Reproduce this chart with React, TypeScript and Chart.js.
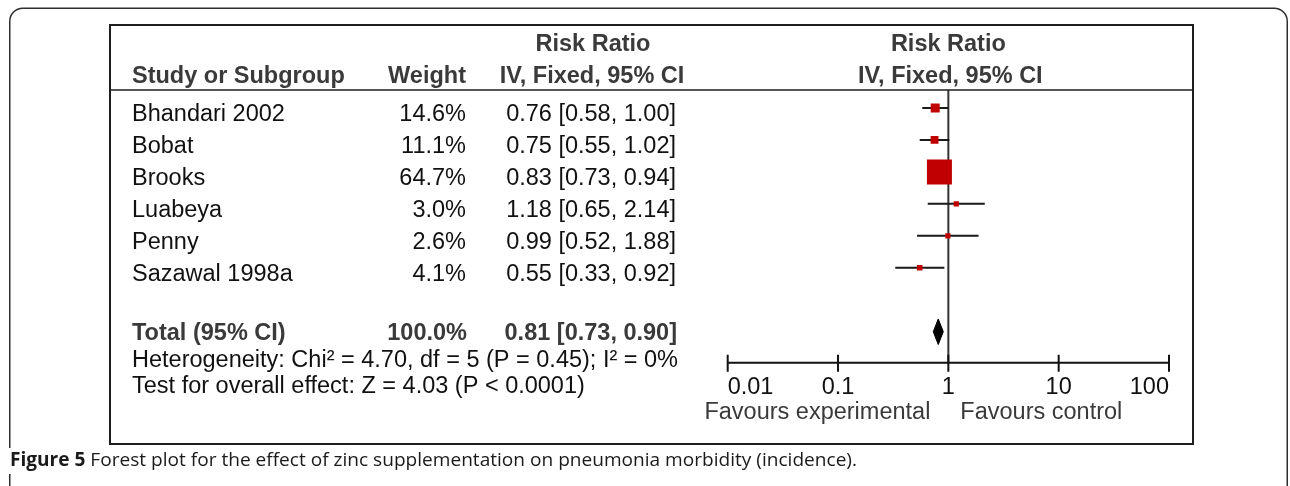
import React, { useEffect, useRef } from 'react';
import { Chart, registerables } from 'chart.js';

Chart.register(...registerables);

// ---------- data ----------
const studies = ['Bhandari 2002', 'Bobat', 'Brooks', 'Luabeya', 'Penny', 'Sazawal 1998a'];
const weights = [14.6, 11.1, 64.7, 3.0, 2.6, 4.1];
const riskRatios = [0.76, 0.75, 0.83, 1.18, 0.99, 0.55];
const ciLower = [0.58, 0.55, 0.73, 0.65, 0.52, 0.33];
const ciUpper = [1.0, 1.02, 0.94, 2.14, 1.88, 0.92];

const totalLabel = 'Total (95% CI)';
const totalWeight = 100.0;
const totalRR = 0.81;
const totalLower = 0.73;
const totalUpper = 0.9;

const xTicks = [0.01, 0.1, 1, 10, 100];
const xTickLabels = ['0.01', '0.1', '1', '10', '100'];

const headerTop = 'Risk Ratio';
const headerStudy = 'Study or Subgroup';
const headerWeight = 'Weight';
const headerMethod = 'IV, Fixed, 95% CI';
const heterogeneityText = 'Heterogeneity: Chi² = 4.70, df = 5 (P = 0.45); I² = 0%';
const overallText = 'Test for overall effect: Z = 4.03 (P < 0.0001)';
const favoursLeft = 'Favours experimental';
const favoursRight = 'Favours control';
const captionBold = 'Figure 5';
const captionText = ' Forest plot for the effect of zinc supplementation on pneumonia morbidity (incidence).';

// ---------- layout constants ----------
const W = 1290;
const H = 486;
const FONT = '"Liberation Sans", Arial, Helvetica, sans-serif';
const FS = 23.5;
const CAP_FONT = '"Open Sans", "Noto Sans", sans-serif';
const CAP_FS = 19;
const Y_MIN = -0.5625;
const Y_MAX = 7.96875;
const TOTAL_ROW = studies.length + 1;

const fmtCI = (r: number, l: number, u: number) => `${r.toFixed(2)} [${l.toFixed(2)}, ${u.toFixed(2)}]`;

const forestPlugin = {
  id: 'forestTable',
  afterDatasetsDraw(chart: any) {
    const ctx = chart.ctx as CanvasRenderingContext2D;
    const xs = chart.scales.x;
    const axisY = chart.chartArea.bottom;
    ctx.save();
    ctx.strokeStyle = '#111';
    ctx.lineWidth = 2;
    const x0 = xs.getPixelForValue(xTicks[0]);
    const x1 = xs.getPixelForValue(xTicks[xTicks.length - 1]);
    ctx.beginPath();
    ctx.moveTo(x0, axisY);
    ctx.lineTo(x1, axisY);
    xTicks.forEach((v) => {
      const px = xs.getPixelForValue(v);
      ctx.moveTo(px, axisY - 8);
      ctx.lineTo(px, axisY + 9);
    });
    ctx.stroke();
    ctx.restore();
  },
  afterDraw(chart: any) {
    const ctx = chart.ctx as CanvasRenderingContext2D;
    const xs = chart.scales.x;
    const ys = chart.scales.y;
    ctx.save();

    // outer rounded frame
    ctx.strokeStyle = '#2e2e2e';
    ctx.lineWidth = 1.5;
    const L = 9.75, T = 8.25, R = 1287.25, B = 600, r = 13;
    ctx.beginPath();
    ctx.moveTo(L, B);
    ctx.lineTo(L, T + r);
    ctx.arcTo(L, T, L + r, T, r);
    ctx.lineTo(R - r, T);
    ctx.arcTo(R, T, R, T + r, r);
    ctx.lineTo(R, B);
    ctx.stroke();

    // inner box
    ctx.strokeStyle = '#1e1e1e';
    ctx.lineWidth = 2;
    ctx.strokeRect(110, 25, 1083, 419);
    ctx.lineWidth = 1.5;
    ctx.beginPath();
    ctx.moveTo(110, 90);
    ctx.lineTo(1193, 90);
    ctx.stroke();

    const refX = xs.getPixelForValue(1);

    // headers
    ctx.textBaseline = 'middle';
    ctx.fillStyle = '#3a3a3a';
    ctx.font = `bold ${FS}px ${FONT}`;
    ctx.textAlign = 'center';
    ctx.fillText(headerTop, 593, 45);
    ctx.fillText(headerMethod, 592, 77);
    ctx.fillText(headerTop, refX, 45);
    ctx.fillText(headerMethod, refX + 2, 77);
    ctx.textAlign = 'left';
    ctx.fillText(headerStudy, 132, 77);
    ctx.textAlign = 'right';
    ctx.fillText(headerWeight, 466, 77);

    // study rows
    ctx.fillStyle = '#111';
    ctx.font = `${FS}px ${FONT}`;
    studies.forEach((s, i) => {
      const y = ys.getPixelForValue(i) + 6.5;
      ctx.textAlign = 'left';
      ctx.fillText(s, 132, y);
      ctx.textAlign = 'right';
      ctx.fillText(`${weights[i].toFixed(1)}%`, 466, y);
      ctx.fillText(fmtCI(riskRatios[i], ciLower[i], ciUpper[i]), 676, y);
    });

    // total row
    const ty = ys.getPixelForValue(TOTAL_ROW) + 1.5;
    ctx.fillStyle = '#3a3a3a';
    ctx.font = `bold ${FS}px ${FONT}`;
    ctx.textAlign = 'left';
    ctx.fillText(totalLabel, 132, ty);
    ctx.textAlign = 'right';
    ctx.fillText(`${totalWeight.toFixed(1)}%`, 467, ty);
    ctx.fillText(fmtCI(totalRR, totalLower, totalUpper), 677, ty);

    // heterogeneity / overall effect
    ctx.fillStyle = '#111';
    ctx.font = `${FS}px ${FONT}`;
    ctx.textAlign = 'left';
    ctx.fillText(heterogeneityText, 132, ty + 27);
    ctx.fillText(overallText, 132, ty + 53);

    // favours labels
    ctx.fillStyle = '#3a3a3a';
    ctx.textAlign = 'right';
    ctx.fillText(favoursLeft, refX - 18, 413);
    ctx.textAlign = 'left';
    ctx.fillText(favoursRight, refX + 12, 413);

    // caption
    const capY = 461;
    ctx.font = `bold ${CAP_FS}px ${CAP_FONT}`;
    const bw = ctx.measureText(captionBold).width;
    ctx.font = `${CAP_FS}px ${CAP_FONT}`;
    const rw = ctx.measureText(captionText).width;
    const sx = 847 / (bw + rw);
    ctx.fillStyle = '#ffffff';
    ctx.fillRect(4, capY - 13, 860, 26);
    ctx.fillStyle = '#1a1a1a';
    ctx.translate(10, capY);
    ctx.scale(sx, 1);
    ctx.textAlign = 'left';
    ctx.font = `bold ${CAP_FS}px ${CAP_FONT}`;
    ctx.fillText(captionBold, 0, 0);
    ctx.font = `${CAP_FS}px ${CAP_FONT}`;
    ctx.fillText(captionText, bw, 0);

    ctx.restore();
  },
};

export default function App() {
  const canvasRef = useRef<HTMLCanvasElement | null>(null);

  useEffect(() => {
    const canvas = canvasRef.current;
    if (!canvas) return;

    const squareData = riskRatios.map((v, i) => ({ x: v, y: i }));
    const squareRadius = weights.map((w) => (4.3 + 0.32 * w) / Math.SQRT2);

    const ciDatasets = studies.map((s, i) => ({
      label: `${s} CI`,
      data: [
        { x: ciLower[i], y: i },
        { x: ciUpper[i], y: i },
      ],
      borderColor: '#1a1a1a',
      borderWidth: 2,
      pointRadius: 0,
      fill: false,
    }));

    const diamondHalf = 0.4;
    const datasets: any[] = [
      {
        label: 'studies',
        data: squareData,
        showLine: false,
        pointStyle: 'rect',
        pointRadius: squareRadius,
        pointBackgroundColor: '#c00000',
        pointBorderColor: '#c00000',
        pointBorderWidth: 0,
      },
      {
        label: 'total',
        data: [
          { x: totalLower, y: TOTAL_ROW },
          { x: totalRR, y: TOTAL_ROW - diamondHalf },
          { x: totalUpper, y: TOTAL_ROW },
          { x: totalRR, y: TOTAL_ROW + diamondHalf },
          { x: totalLower, y: TOTAL_ROW },
        ],
        borderColor: '#000',
        backgroundColor: '#000',
        borderWidth: 1,
        pointRadius: 0,
        fill: 'shape',
        tension: 0,
      },
      ...ciDatasets,
      {
        label: 'no effect',
        data: [
          { x: 1, y: Y_MIN },
          { x: 1, y: Y_MAX },
        ],
        borderColor: '#333',
        borderWidth: 2,
        pointRadius: 0,
        fill: false,
      },
    ];

    const chart = new Chart(canvas, {
      type: 'line',
      data: { datasets },
      options: {
        animation: false,
        responsive: false,
        maintainAspectRatio: false,
        events: [],
        layout: { padding: { left: 727.7, right: W - 1169, top: 90, bottom: 73.1 } },
        plugins: {
          legend: { display: false },
          tooltip: { enabled: false },
        },
        scales: {
          x: {
            type: 'logarithmic',
            min: xTicks[0],
            max: xTicks[xTicks.length - 1],
            position: 'bottom',
            grid: { display: false, drawTicks: false },
            border: { display: false },
            afterBuildTicks: (scale: any) => {
              scale.ticks = xTicks.map((v) => ({ value: v, major: true }));
            },
            ticks: {
              align: 'inner',
              autoSkip: false,
              maxRotation: 0,
              minRotation: 0,
              padding: 11,
              color: '#111',
              font: { family: FONT, size: FS },
              callback: (_v: any, idx: number) => xTickLabels[idx],
            },
          },
          y: {
            type: 'linear',
            display: false,
            min: Y_MIN,
            max: Y_MAX,
            reverse: true,
          },
        },
      } as any,
      plugins: [forestPlugin],
    });

    return () => chart.destroy();
  }, []);

  return (
    <div style={{ position: 'absolute', left: 0, top: 0, width: W, height: H, background: '#fff' }}>
      <canvas ref={canvasRef} width={W} height={H} style={{ width: W, height: H, display: 'block' }} />
    </div>
  );
}
